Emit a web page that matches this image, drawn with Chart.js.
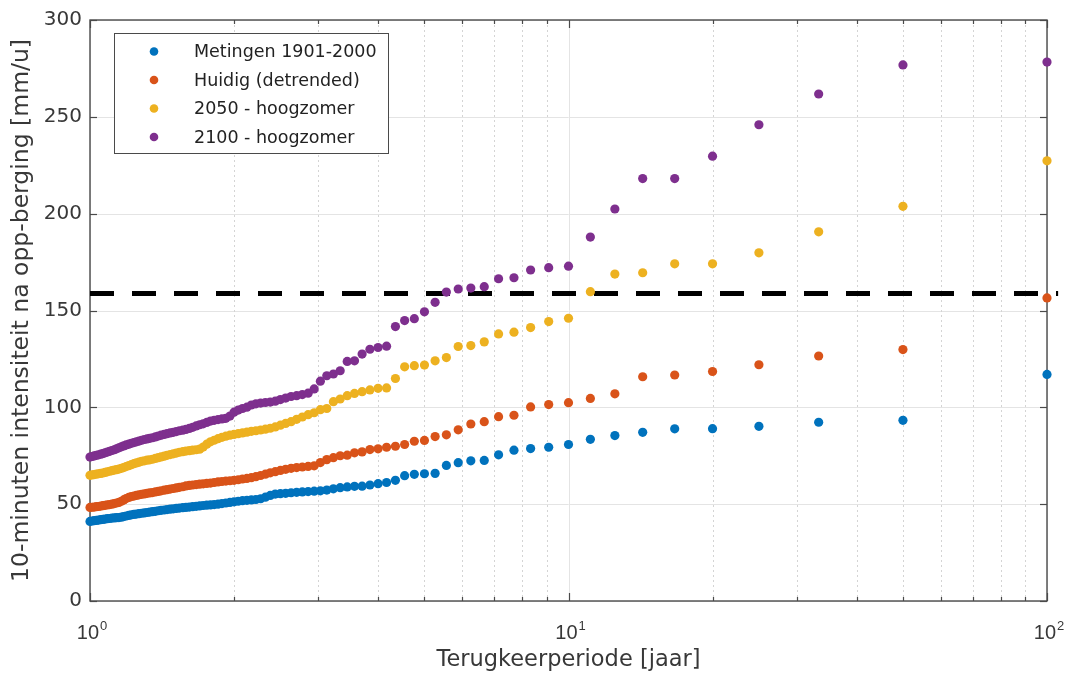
<!DOCTYPE html>
<html>
<head>
<meta charset="utf-8">
<script src="https://cdn.jsdelivr.net/npm/chart.js@4"></script>
<style>
	html, body { margin: 0; padding: 0; background: #fff; }
	canvas { display: block; }
</style>
</head>
<body>
<canvas id="chart" width="1071" height="680"></canvas>
<script>
'use strict';

// return period in years (rank based, 100 years of data)
const returnPeriods = [
	1.000, 1.010, 1.020, 1.031, 1.042, 1.053, 1.064, 1.075, 1.087, 1.099,
	1.111, 1.124, 1.136, 1.149, 1.163, 1.176, 1.190, 1.205, 1.220, 1.235,
	1.250, 1.266, 1.282, 1.299, 1.316, 1.333, 1.351, 1.370, 1.389, 1.408,
	1.429, 1.449, 1.471, 1.493, 1.515, 1.538, 1.563, 1.587, 1.613, 1.639,
	1.667, 1.695, 1.724, 1.754, 1.786, 1.818, 1.852, 1.887, 1.923, 1.961,
	2.000, 2.041, 2.083, 2.128, 2.174, 2.222, 2.273, 2.326, 2.381, 2.439,
	2.500, 2.564, 2.632, 2.703, 2.778, 2.857, 2.941, 3.030, 3.125, 3.226,
	3.333, 3.448, 3.571, 3.704, 3.846, 4.000, 4.167, 4.348, 4.545, 4.762,
	5.000, 5.263, 5.556, 5.882, 6.250, 6.667, 7.143, 7.692, 8.333, 9.091,
	10.00, 11.11, 12.50, 14.29, 16.67, 20.00, 25.00, 33.33, 50.00, 100.0
];

const metingen = [
	41.1, 41.3, 41.5, 41.6, 41.8, 42.0, 42.1, 42.3, 42.5, 42.6,
	42.8, 42.9, 43.0, 43.1, 43.3, 43.6, 43.9, 44.2, 44.5, 44.7,
	44.9, 45.1, 45.3, 45.5, 45.7, 45.9, 46.1, 46.3, 46.6, 46.8,
	47.0, 47.2, 47.4, 47.6, 47.8, 48.0, 48.2, 48.3, 48.5, 48.7,
	48.9, 49.1, 49.3, 49.5, 49.6, 49.8, 50.0, 50.3, 50.6, 50.9,
	51.2, 51.5, 51.8, 52.0, 52.2, 52.4, 52.8, 53.6, 54.5, 55.2,
	55.4, 55.6, 55.9, 56.1, 56.3, 56.5, 56.7, 56.9, 57.3, 57.9,
	58.5, 58.9, 59.2, 59.3, 59.9, 60.6, 61.2, 62.3, 64.7, 65.4,
	65.7, 65.9, 70.0, 71.4, 72.4, 72.6, 75.5, 77.9, 78.7, 79.4,
	80.8, 83.5, 85.4, 87.1, 88.9, 89.0, 90.2, 92.3, 93.3, 117.0
];

const huidig = [
	48.3, 48.4, 48.5, 48.7, 48.8, 49.0, 49.2, 49.4, 49.6, 49.8,
	50.0, 50.3, 50.6, 50.9, 51.5, 52.2, 52.9, 53.5, 53.9, 54.2,
	54.5, 54.8, 55.1, 55.3, 55.6, 55.8, 56.0, 56.3, 56.6, 56.9,
	57.2, 57.5, 57.8, 58.1, 58.4, 58.7, 59.0, 59.4, 59.7, 59.9,
	60.1, 60.3, 60.5, 60.7, 60.9, 61.2, 61.5, 61.7, 61.9, 62.1,
	62.3, 62.6, 63.0, 63.3, 63.7, 64.2, 64.8, 65.5, 66.2, 66.8,
	67.4, 68.0, 68.5, 68.9, 69.2, 69.5, 69.8, 71.5, 73.0, 74.0,
	75.0, 75.3, 76.5, 77.0, 78.2, 78.6, 79.4, 79.9, 80.8, 82.5,
	82.9, 84.9, 85.8, 88.4, 91.4, 92.6, 95.2, 95.9, 100.2, 101.4,
	102.4, 104.6, 107.0, 115.8, 116.7, 118.5, 122.0, 126.5, 129.8, 156.5
];

const hoogzomer2050 = [
	64.9, 65.1, 65.3, 65.5, 65.7, 65.9, 66.1, 66.4, 66.7, 67.0,
	67.3, 67.6, 67.8, 68.1, 68.5, 68.9, 69.4, 69.9, 70.4, 70.9,
	71.3, 71.7, 72.1, 72.4, 72.7, 72.9, 73.2, 73.6, 74.0, 74.4,
	74.8, 75.2, 75.6, 76.0, 76.4, 76.8, 77.1, 77.4, 77.6, 77.9,
	78.1, 78.4, 79.5, 81.0, 82.2, 83.0, 83.8, 84.5, 85.1, 85.6,
	86.0, 86.4, 86.8, 87.2, 87.6, 87.9, 88.3, 88.7, 89.2, 89.9,
	90.8, 91.7, 92.6, 93.8, 95.0, 96.2, 97.2, 98.8, 99.4, 102.9,
	104.3, 106.0, 107.2, 108.1, 109.0, 109.8, 110.0, 114.9, 120.9, 121.5,
	121.8, 124.0, 125.7, 131.4, 131.9, 133.8, 137.9, 138.8, 141.2, 144.3,
	146.0, 159.7, 168.8, 169.5, 174.1, 174.1, 179.8, 190.6, 203.8, 227.3
];

const hoogzomer2100 = [
	74.3, 74.6, 74.9, 75.2, 75.5, 75.8, 76.1, 76.5, 76.9, 77.3,
	77.7, 78.1, 78.6, 79.1, 79.6, 80.1, 80.6, 81.0, 81.4, 81.8,
	82.2, 82.6, 83.0, 83.4, 83.7, 84.0, 84.3, 84.7, 85.2, 85.6,
	86.0, 86.4, 86.8, 87.1, 87.5, 87.9, 88.2, 88.6, 89.1, 89.7,
	90.4, 91.0, 91.5, 92.2, 92.9, 93.3, 93.7, 94.0, 94.3, 95.5,
	97.5, 98.6, 99.4, 100.1, 101.2, 101.8, 102.2, 102.5, 102.7, 103.2,
	104.0, 104.8, 105.6, 106.0, 106.6, 107.3, 109.5, 113.5, 116.3, 117.2,
	118.9, 123.7, 124.0, 127.5, 130.0, 130.9, 131.6, 141.7, 144.8, 145.8,
	149.3, 154.2, 159.5, 161.1, 161.6, 162.3, 166.4, 166.9, 170.9, 172.1,
	172.9, 187.9, 202.4, 218.1, 218.1, 229.7, 245.9, 261.8, 276.8, 278.3
];

const seriesNames = ['Metingen 1901-2000', 'Huidig (detrended)', '2050 - hoogzomer', '2100 - hoogzomer'];
const seriesColors = ['#0072BD', '#D95319', '#EDB120', '#7E2F8E'];
const seriesValues = [metingen, huidig, hoogzomer2050, hoogzomer2100];

// threshold line
const thresholdValue = 158.8;
const thresholdRange = [1, 105.5];

const yTicks = [0, 50, 100, 150, 200, 250, 300];
const xMajorTicks = [1, 10, 100];
const xTickExponents = ['0', '1', '2'];
const xMinorTicks = [2, 3, 4, 5, 6, 7, 8, 9, 20, 30, 40, 50, 60, 70, 80, 90];

const axisColor = '#4a4a4a';
const textColor = '#383838';

const line = function(ctx, x1, y1, x2, y2) {
	ctx.beginPath();
	ctx.moveTo(x1, y1);
	ctx.lineTo(x2, y2);
	ctx.stroke();
};

const matlabAxes = {
	id: 'matlabAxes',
	beforeDatasetsDraw(chart) {
		const {ctx, chartArea: a, scales: {x, y}} = chart;
		ctx.save();

		// grid
		ctx.lineWidth = 1;
		ctx.strokeStyle = '#e4e4e4';
		yTicks.forEach((v) => {
			const py = Math.round(y.getPixelForValue(v)) + 0.5;
			line(ctx, a.left, py, a.right, py);
		});
		xMajorTicks.forEach((v) => {
			const px = Math.round(x.getPixelForValue(v)) + 0.5;
			line(ctx, px, a.top, px, a.bottom);
		});
		ctx.setLineDash([2, 3]);
		ctx.strokeStyle = '#d4d4d4';
		xMinorTicks.forEach((v) => {
			const px = Math.round(x.getPixelForValue(v)) + 0.5;
			line(ctx, px, a.top, px, a.bottom);
		});
		ctx.setLineDash([]);

		// tick marks
		ctx.strokeStyle = axisColor;
		ctx.lineWidth = 1.2;
		yTicks.forEach((v) => {
			const py = Math.round(y.getPixelForValue(v)) + 0.5;
			line(ctx, a.left, py, a.left + 7, py);
			line(ctx, a.right, py, a.right - 7, py);
		});
		xMajorTicks.forEach((v) => {
			const px = Math.round(x.getPixelForValue(v)) + 0.5;
			line(ctx, px, a.bottom, px, a.bottom - 8);
			line(ctx, px, a.top, px, a.top + 8);
		});
		xMinorTicks.forEach((v) => {
			const px = Math.round(x.getPixelForValue(v)) + 0.5;
			line(ctx, px, a.bottom, px, a.bottom - 4);
			line(ctx, px, a.top, px, a.top + 4);
		});

		// box
		ctx.lineWidth = 1.4;
		ctx.strokeRect(a.left, a.top, a.right - a.left, a.bottom - a.top);

		// x tick labels, 10 with superscript
		ctx.fillStyle = textColor;
		ctx.textBaseline = 'alphabetic';
		xMajorTicks.forEach((v, i) => {
			const px = x.getPixelForValue(v);
			ctx.font = '20px "Liberation Sans", Arial, sans-serif';
			const baseW = ctx.measureText('10').width;
			ctx.font = '13px "Liberation Sans", Arial, sans-serif';
			const expW = ctx.measureText(xTickExponents[i]).width;
			const left = px - (baseW + expW + 1) / 2 + 2;
			ctx.font = '20px "Liberation Sans", Arial, sans-serif';
			ctx.textAlign = 'left';
			ctx.fillText('10', left, 639);
			ctx.font = '13px "Liberation Sans", Arial, sans-serif';
			ctx.fillText(xTickExponents[i], left + baseW + 1, 630);
		});

		ctx.restore();
	},
	afterDraw(chart) {
		const ctx = chart.ctx;
		const box = {left: 114.5, top: 33.5, width: 274, height: 120};
		ctx.save();
		ctx.fillStyle = '#ffffff';
		ctx.fillRect(box.left, box.top, box.width, box.height);
		ctx.strokeStyle = axisColor;
		ctx.lineWidth = 1;
		ctx.strokeRect(box.left, box.top, box.width, box.height);

		ctx.font = '17.5px "DejaVu Sans", sans-serif';
		ctx.textBaseline = 'middle';
		ctx.textAlign = 'left';
		seriesNames.forEach((name, i) => {
			const cy = 51.5 + i * 28.5;
			ctx.fillStyle = seriesColors[i];
			ctx.beginPath();
			ctx.arc(154, cy, 4.3, 0, Math.PI * 2);
			ctx.fill();
			ctx.fillStyle = '#222222';
			ctx.fillText(name, 194, cy + 1);
		});
		ctx.restore();
	}
};

const datasets = seriesValues.map((values, i) => ({
	label: seriesNames[i],
	data: returnPeriods.map((t, j) => ({x: t, y: values[j]})),
	backgroundColor: seriesColors[i],
	borderWidth: 0,
	pointRadius: 4.6,
	pointHoverRadius: 4.6,
	clip: false
}));

datasets.push({
	type: 'line',
	label: 'drempel',
	data: thresholdRange.map((t) => ({x: t, y: thresholdValue})),
	borderColor: '#000000',
	borderWidth: 5,
	borderDash: [24, 18],
	pointRadius: 0,
	fill: false,
	clip: false
});

const chart = new Chart(document.getElementById('chart'), {
	type: 'scatter',
	data: {datasets: datasets},
	options: {
		responsive: false,
		animation: false,
		layout: {
			padding: {top: 17, right: 24, bottom: 0, left: 0}
		},
		scales: {
			x: {
				type: 'logarithmic',
				min: 1,
				max: 100,
				grid: {display: false},
				border: {display: false},
				ticks: {display: false},
				title: {
					display: true,
					text: 'Terugkeerperiode [jaar]',
					color: textColor,
					font: {family: '"DejaVu Sans", sans-serif', size: 22.5},
					padding: {top: 0, bottom: 6}
				},
				afterFit: (scale) => { scale.height = 79; }
			},
			y: {
				min: 0,
				max: 300,
				grid: {display: false, drawTicks: false},
				border: {display: false},
				ticks: {
					stepSize: 50,
					padding: 8,
					color: textColor,
					font: {family: '"DejaVu Sans", sans-serif', size: 20}
				},
				title: {
					display: true,
					text: '10-minuten intensiteit na opp-berging [mm/u]',
					color: textColor,
					font: {family: '"DejaVu Sans", sans-serif', size: 23.5},
					padding: {top: 8, bottom: 0}
				},
				afterFit: (scale) => { scale.width = 90; }
			}
		},
		plugins: {
			legend: {display: false},
			tooltip: {enabled: false}
		}
	},
	plugins: [matlabAxes]
});
</script>
</body>
</html>
